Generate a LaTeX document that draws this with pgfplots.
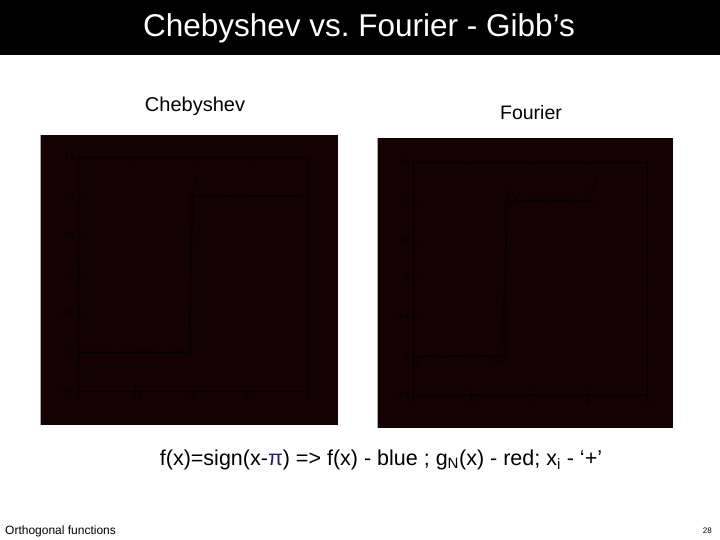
\documentclass[border=0pt]{standalone}
\usepackage{pgfplots}
\pgfplotsset{compat=1.18}
\usepackage{fontspec}
\setmainfont{Liberation Sans}
\frenchspacing
\definecolor{panel}{RGB}{19,1,3}
\definecolor{dline}{RGB}{3,0,0}
\definecolor{pic}{RGB}{40,30,110}
\begin{document}
\begin{tikzpicture}[x=1pt,y=1pt]
% slide
\fill[white] (0,0) rectangle (720,540);
\fill[black] (0,485) rectangle (720,540);
\node[white,font=\fontsize{31.5}{33}\selectfont] at (359,512) {Chebyshev vs. Fourier - Gibb’s};
\node[font=\fontsize{20}{22}\selectfont] at (195,434) {Chebyshev};
\node[font=\fontsize{19.5}{21}\selectfont] at (531,427) {Fourier};
\fill[panel] (40,115) rectangle (338,405);
\draw[gray!70,line width=0.8pt] (40.4,115) -- (40.4,405);
\fill[panel] (377,112) rectangle (673,402);
\draw[gray!70,line width=0.8pt] (377.4,112) -- (377.4,402);
\node[font=\fontsize{21.5}{23}\selectfont] at (381,80) {f(x)=sign(x-\textcolor{pic}{π}) => f(x) - blue ; g\textsubscript{N}(x) - red; x\textsubscript{i} - ‘+’};
\node[anchor=west,inner sep=0pt,font=\fontsize{12}{14}\selectfont] at (5,9) {Orthogonal functions};
\node[anchor=east,inner sep=0pt,font=\fontsize{8}{10}\selectfont] at (712,9) {28};
% Chebyshev axis
\begin{axis}[at={(78pt,149pt)}, anchor=south west, scale only axis,
  width=230pt, height=234pt,
  xmin=-1, xmax=1, ymin=-1.5, ymax=1.5,
  xtick={-1,-0.5,0,0.5,1}, xticklabels={-1,-0.5,0,0.5,1},
  ytick={-1.5,-1,-0.5,0,0.5,1,1.5}, yticklabels={-1.5,-1,-0.5,0,0.5,1,1.5},
  tick align=inside, axis line style={black}, tick style={black},
  tick label style={font=\fontsize{7}{8}\selectfont, black},
  clip=false]
\addplot[dline, line width=0.6pt] coordinates {(-1,-1) (-0.02,-1) (-0.02,1) (1,1)};
\addplot[dline, line width=0.5pt] coordinates {(-0.98,-1.02) (-0.8,-1) (-0.6,-1.01) (-0.4,-0.99) (-0.2,-1.02) (-0.1,-0.97) (-0.05,-1.05) (-0.03,-0.6) (-0.01,0.4) (0.0,1.1) (0.02,1.2) (0.05,1.06) (0.1,0.98) (0.2,1.02) (0.4,0.99) (0.6,1.01) (0.8,1.0) (0.98,1.02)};
\addplot[dline, only marks, mark=+, mark size=1.5pt] coordinates {(-0.995,-1) (-0.957,-1) (-0.882,-1) (-0.773,-1) (-0.634,-1) (-0.471,-1) (-0.290,-1) (-0.098,-1) (0.098,1) (0.290,1) (0.471,1) (0.634,1) (0.773,1) (0.882,1) (0.957,1) (0.995,1)};
\end{axis}
% Fourier axis
\begin{axis}[at={(413pt,145pt)}, anchor=south west, scale only axis,
  width=234pt, height=233pt,
  xmin=0, xmax=8, ymin=-1.5, ymax=1.5,
  xtick={0,2,4,6,8},
  ytick={-1.5,-1,-0.5,0,0.5,1,1.5}, yticklabels={-1.5,-1,-0.5,0,0.5,1,1.5},
  tick align=inside, axis line style={black}, tick style={black},
  tick label style={font=\fontsize{7}{8}\selectfont, black},
  clip=false]
\addplot[dline, line width=0.6pt] coordinates {(0,-1) (3.1416,-1) (3.1416,1) (6.2832,1)};
\addplot[dline, line width=0.5pt] coordinates {(0.08,-1.15) (0.17,-1.02) (0.5,-0.99) (1.0,-1.01) (1.5,-0.99) (2.0,-1.01) (2.5,-0.99) (3.0,-1.1) (3.1416,0) (3.28,1.16) (3.6,0.99) (4.0,1.01) (4.5,0.99) (5.0,1.01) (5.5,0.99) (6.0,1.01) (6.2,1.22) (6.2832,1.3)};
\addplot[dline, only marks, mark=+, mark size=1.5pt] coordinates {(0.39,-1) (0.79,-1) (1.18,-1) (1.57,-1) (1.96,-1) (2.36,-1) (2.75,-1) (3.53,1) (3.93,1) (4.32,1) (4.71,1) (5.11,1) (5.50,1) (5.89,1)};
\end{axis}
\end{tikzpicture}
\end{document}
